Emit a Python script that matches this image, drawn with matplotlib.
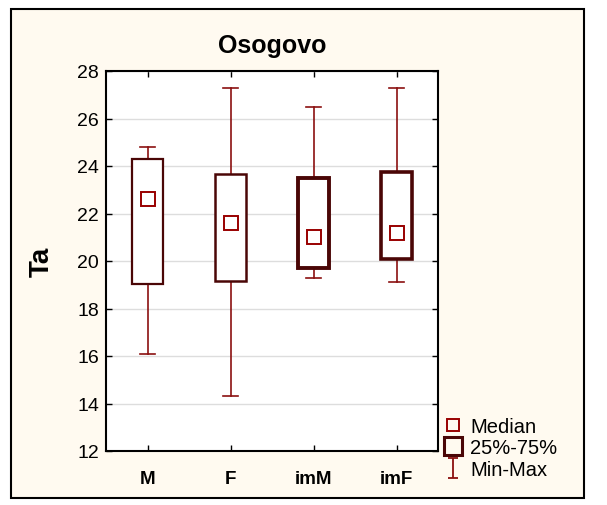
import numpy as np
import matplotlib
matplotlib.use('Agg')
import matplotlib.pyplot as plt
from matplotlib.lines import Line2D
from matplotlib.patches import Rectangle
from matplotlib.path import Path

plt.rcParams['font.family'] = ['Liberation Sans', 'DejaVu Sans']

# ── data ──────────────────────────────────────────────────
groups   = ['M', 'F', 'imM', 'imF']
v_min    = [16.1, 14.3, 19.3, 19.1]
q25      = [19.05, 19.15, 19.7, 20.08]
medians  = [22.6, 21.6, 21.0, 21.2]
q75      = [24.3, 23.65, 23.5, 23.75]
v_max    = [24.8, 27.3, 26.5, 27.3]
box_lw   = [1.6, 1.8, 2.8, 2.6]

BG      = '#FFFAF0'
BOX_COL = '#4A0606'
WHI_COL = '#8B1010'
MED_COL = '#990000'

fig = plt.figure(figsize=(6.07, 5.06), dpi=100)
fig.patch.set_facecolor('white')
W, H = 607, 506
# outer framed panel
fig.patches.append(Rectangle((11 / W, 1 - 499 / H), (584 - 11) / W, (499 - 10) / H,
                             transform=fig.transFigure, facecolor=BG,
                             edgecolor='black', linewidth=1.5, zorder=0))

ax = fig.add_axes([106 / W, 1 - 452 / H, (438 - 106) / W, (452 - 72) / H])
ax.set_facecolor('white')
ax.set_zorder(1)

x = np.arange(len(groups))
bw, cw = 0.38, 0.18
for i in x:
    # whiskers
    ax.plot([i, i], [v_min[i], q25[i]], color=WHI_COL, lw=1.2, zorder=2)
    ax.plot([i, i], [q75[i], v_max[i]], color=WHI_COL, lw=1.2, zorder=2)
    ax.plot([i - cw / 2, i + cw / 2], [v_min[i]] * 2, color=WHI_COL, lw=1.2, zorder=2)
    ax.plot([i - cw / 2, i + cw / 2], [v_max[i]] * 2, color=WHI_COL, lw=1.2, zorder=2)
    # box
    ax.add_patch(Rectangle((i - bw / 2, q25[i]), bw, q75[i] - q25[i],
                           facecolor='white', edgecolor=BOX_COL,
                           linewidth=box_lw[i], zorder=3))
ax.plot(x, medians, linestyle='none', marker='s', markersize=9.5,
        markerfacecolor='white', markeredgecolor=MED_COL, markeredgewidth=1.4, zorder=4)

ax.set_xlim(-0.5, 3.5)
ax.set_ylim(12, 28)
ax.set_yticks(np.arange(12, 29, 2))
ax.set_xticks(x)
ax.set_xticklabels(groups, fontweight='bold', fontsize=13.5)
ax.tick_params(axis='y', labelsize=14, direction='in', right=True, length=4, width=1, pad=5)
ax.tick_params(axis='x', direction='in', top=True, length=4, width=1, pad=14)
ax.yaxis.grid(True, color='#DDDDDD', linewidth=1)
ax.set_axisbelow(True)
for s in ax.spines.values():
    s.set_linewidth(1.5)

ax.set_title('Osogovo', fontsize=18, fontweight='bold', pad=14)
ax.set_ylabel('Ta', fontsize=20, fontweight='bold', labelpad=16)

# I-beam marker for the Min-Max entry
ibeam = Path([(-0.5, -1), (0.5, -1), (0, -1), (0, 1), (-0.5, 1), (0.5, 1)],
             [Path.MOVETO, Path.LINETO, Path.MOVETO, Path.LINETO, Path.MOVETO, Path.LINETO])
handles = [
    Line2D([], [], linestyle='none', marker='s', markersize=9, markerfacecolor='none',
           markeredgecolor=MED_COL, markeredgewidth=1.4),
    Line2D([], [], linestyle='none', marker='s', markersize=13, markerfacecolor='none',
           markeredgecolor=BOX_COL, markeredgewidth=2.2),
    Line2D([], [], linestyle='none', marker=ibeam, markersize=15, markerfacecolor='none',
           markeredgecolor=WHI_COL, markeredgewidth=1.3),
]
fig.legend(handles, ['Median', '25%-75%', 'Min-Max'], loc='upper left',
           bbox_to_anchor=(436 / W, 1 - 410 / H), frameon=False, fontsize=14.5,
           handlelength=0.9, handletextpad=0.4, labelspacing=0.12, borderaxespad=0)

plt.savefig('out.png', dpi=100)
plt.close()
